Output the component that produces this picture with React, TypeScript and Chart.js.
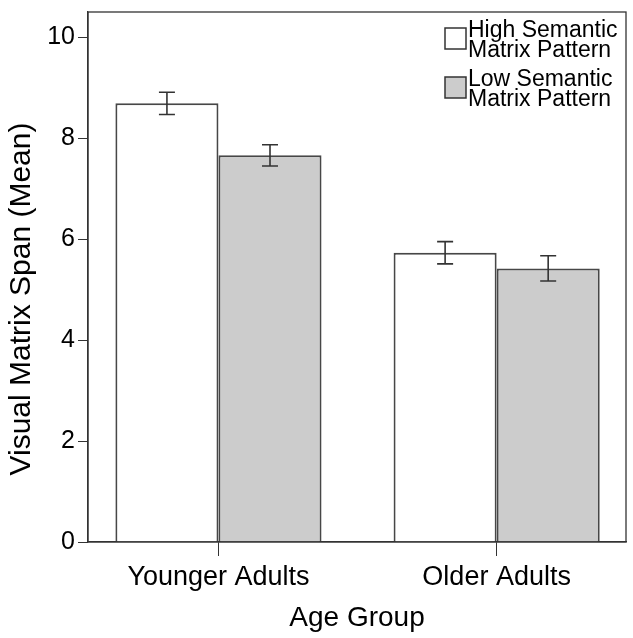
import React, { useEffect, useRef } from "react";
import { Chart, registerables } from "chart.js";

Chart.register(...registerables);

// ---- data ----
const groupLabels = ["Younger Adults", "Older Adults"];
const groupPositions = [1, 2];
const highLabel = ["High Semantic", "Matrix Pattern"];
const lowLabel = ["Low Semantic", "Matrix Pattern"];
const highMeans = [8.69, 5.73];
const lowMeans = [7.66, 5.42];
const highErrors = [0.22, 0.22];
const lowErrors = [0.21, 0.25];
const yTickValues = [0, 2, 4, 6, 8, 10];
const xTitle = "Age Group";
const yTitle = "Visual Matrix Span (Mean)";

const FONT = "'Liberation Sans', Arial, sans-serif";
const LINE = "#333333";
const BAR_BORDER = "#474747";

const errorBarPlugin = {
  id: "errorBars",
  afterDatasetsDraw(chart: any) {
    const { ctx } = chart;
    const yScale = chart.scales.y;
    chart.data.datasets.forEach((ds: any, i: number) => {
      const meta = chart.getDatasetMeta(i);
      meta.data.forEach((bar: any, j: number) => {
        const v = ds.data[j].y;
        const e = ds.errors[j];
        const yTop = yScale.getPixelForValue(v + e);
        const yBot = yScale.getPixelForValue(v - e);
        const x = bar.x;
        const cap = 8;
        ctx.save();
        ctx.strokeStyle = LINE;
        ctx.lineWidth = 1.6;
        ctx.beginPath();
        ctx.moveTo(x, yTop);
        ctx.lineTo(x, yBot);
        ctx.moveTo(x - cap, yTop);
        ctx.lineTo(x + cap, yTop);
        ctx.moveTo(x - cap, yBot);
        ctx.lineTo(x + cap, yBot);
        ctx.stroke();
        ctx.restore();
      });
    });
  },
};

const framePlugin = {
  id: "frameAndText",
  afterDraw(chart: any) {
    const { ctx, chartArea } = chart;
    ctx.save();
    ctx.strokeStyle = LINE;
    ctx.lineWidth = 1.3;
    ctx.strokeRect(
      chartArea.left,
      chartArea.top,
      chartArea.right - chartArea.left,
      chartArea.bottom - chartArea.top
    );

    // y axis title
    ctx.save();
    ctx.translate(30, 299);
    ctx.rotate(-Math.PI / 2);
    ctx.fillStyle = "#000";
    ctx.font = `30px ${FONT}`;
    ctx.textAlign = "center";
    ctx.textBaseline = "alphabetic";
    ctx.fillText(yTitle, 0, 0);
    ctx.restore();

    // legend
    const boxX = chartArea.right - 181;
    const boxSize = 21;
    chart.data.datasets.forEach((ds: any, i: number) => {
      const top = chartArea.top + 16 + i * 49;
      ctx.fillStyle = ds.backgroundColor;
      ctx.fillRect(boxX, top, boxSize, boxSize);
      ctx.strokeStyle = LINE;
      ctx.lineWidth = 1.5;
      ctx.strokeRect(boxX, top, boxSize, boxSize);
      ctx.fillStyle = "#000";
      ctx.font = `23px ${FONT}`;
      ctx.textAlign = "left";
      ctx.textBaseline = "alphabetic";
      const lines: string[] = ds.legendLines;
      lines.forEach((ln, k) => {
        ctx.fillText(ln, boxX + 23, top + 9 + k * 20);
      });
    });
    ctx.restore();
  },
};

export default function App() {
  const ref = useRef<HTMLCanvasElement | null>(null);

  useEffect(() => {
    if (!ref.current) return;
    const chart = new Chart(ref.current, {
      type: "bar",
      data: {
        datasets: [
          {
            label: highLabel.join(" "),
            legendLines: highLabel,
            data: groupPositions.map((x, i) => ({ x, y: highMeans[i] })),
            errors: highErrors,
            backgroundColor: "#ffffff",
            borderColor: BAR_BORDER,
            borderWidth: 2,
          } as any,
          {
            label: lowLabel.join(" "),
            legendLines: lowLabel,
            data: groupPositions.map((x, i) => ({ x, y: lowMeans[i] })),
            errors: lowErrors,
            backgroundColor: "#cccccc",
            borderColor: BAR_BORDER,
            borderWidth: 2,
          } as any,
        ],
      },
      options: {
        responsive: false,
        animation: false,
        devicePixelRatio: 1,
        layout: { padding: { top: 12, right: 7, left: 0, bottom: 0 } },
        datasets: {
          bar: { categoryPercentage: 0.741, barPercentage: 1.0 },
        },
        plugins: {
          legend: { display: false },
          tooltip: { enabled: false },
        },
        scales: {
          x: {
            type: "linear",
            min: 0.531,
            max: 2.465,
            offset: false,
            afterBuildTicks: (axis: any) => {
              axis.ticks = groupPositions.map((v) => ({ value: v }));
            },
            afterFit: (axis: any) => {
              axis.height = 96;
              axis.paddingLeft = 0;
              axis.paddingRight = 0;
            },
            grid: {
              offset: false,
              drawOnChartArea: false,
              drawTicks: true,
              tickLength: 14,
              color: LINE,
              lineWidth: 1,
            },
            border: { display: true, color: LINE, width: 1.3 },
            ticks: {
              autoSkip: false,
              maxRotation: 0,
              padding: 5,
              color: "#000",
              font: { family: FONT, size: 27 },
              callback: (_v: any, idx: number) => groupLabels[idx],
            },
            title: {
              display: true,
              text: xTitle,
              color: "#000",
              font: { family: FONT, size: 28 },
              padding: { top: 0, bottom: 3 },
            },
          },
          y: {
            type: "linear",
            min: 0,
            max: 10.5,
            afterBuildTicks: (axis: any) => {
              axis.ticks = yTickValues.map((v) => ({ value: v }));
            },
            afterFit: (axis: any) => {
              axis.width = 88;
              axis.paddingTop = 0;
              axis.paddingBottom = 0;
            },
            grid: {
              drawOnChartArea: false,
              drawTicks: true,
              tickLength: 10,
              color: LINE,
              lineWidth: 1,
            },
            border: { display: true, color: LINE, width: 1.3 },
            ticks: {
              padding: 3,
              color: "#000",
              font: { family: FONT, size: 25 },
            },
          },
        },
      } as any,
      plugins: [errorBarPlugin, framePlugin],
    });
    return () => chart.destroy();
  }, []);

  return (
    <div style={{ position: "absolute", left: 0, top: 0, width: 633, height: 638, background: "#fff" }}>
      <canvas ref={ref} width={633} height={638} />
    </div>
  );
}
